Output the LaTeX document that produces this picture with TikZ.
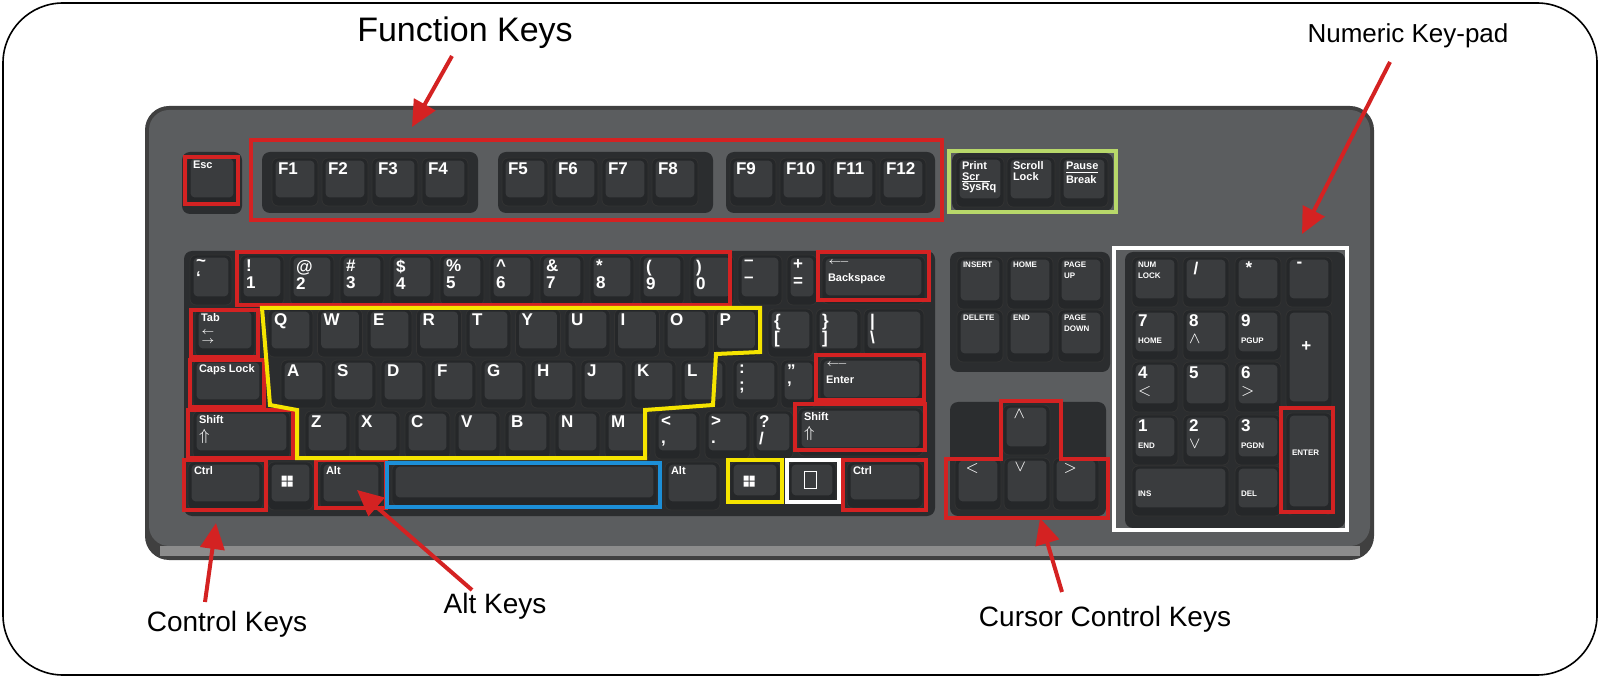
\documentclass[tikz,border=0pt]{standalone}
\usepackage{fontspec}
\setmainfont{Liberation Sans}
\usetikzlibrary{arrows.meta}
\definecolor{body}{HTML}{5B5D5F}
\definecolor{keyd}{HTML}{252729}
\definecolor{keyf}{HTML}{3A3C3E}
\definecolor{tray}{HTML}{2B2D2F}
\definecolor{rd}{HTML}{D42222}
\definecolor{yl}{HTML}{F5E400}
\definecolor{bl}{HTML}{1C8FD8}
\definecolor{gr}{HTML}{B8D86A}
\tikzset{
 key/.style={fill=keyd,draw=black!80,rounded corners=3pt,inner sep=0pt},
 face/.style={fill=keyf},
 lbl/.style={anchor=north west,inner sep=0pt,text=white,align=left,font=\bfseries\fontsize{5.5}{8.5}\selectfont},
 hl/.style={line width=2pt,line join=miter},
 callout/.style={rd,line width=2pt,-{Triangle[length=13pt,width=12pt]}},
 title/.style={font=\fontsize{14}{16}\selectfont},
}
\newcommand\kk[6]{%
 \node[key,minimum width=#4*0.5pt,minimum height=#5*0.5pt] (#1) at ({#2+#4/2},{#3+#5/2}) {};
 \fill[face,rounded corners=2pt] ([shift={(4,3)}]#1.north west) rectangle ([shift={(-4,-9)}]#1.south east);
 \node[lbl] at ([shift={(6,5)}]#1.north west) {#6};}
\newcommand\BL[1]{{\fontsize{8.5}{9}\selectfont #1}}
\newcommand\SM{\fontsize{4}{5}\selectfont}
\newcommand\winlogo[1]{\fill[white] ([shift={(14,14)}]#1.north west) rectangle +(5,5) ([shift={(20,14)}]#1.north west) rectangle +(5,5) ([shift={(14,20)}]#1.north west) rectangle +(5,5) ([shift={(20,20)}]#1.north west) rectangle +(5,5);}
\begin{document}
\begin{tikzpicture}[x=0.5pt,y=-0.5pt]
\useasboundingbox (0,0) rectangle (1600,678);
\fill[white] (0,0) rectangle (1600,678);
\draw[line width=0.8pt,rounded corners=30pt] (3,3) rectangle (1597,675);
% body
\fill[black!75,rounded corners=12pt] (145,106) rectangle (1374,560);
\fill[body,rounded corners=10pt] (149,110) rectangle (1370,546);
\fill[black!45] (160,546) rectangle (1360,556);
% trays
\fill[tray,rounded corners=4pt] (182,152) rectangle (242,214);
\fill[tray,rounded corners=4pt] (262,152) rectangle (478,213);
\fill[tray,rounded corners=4pt] (498,152) rectangle (713,213);
\fill[tray,rounded corners=4pt] (726,152) rectangle (935,213);
\fill[tray,rounded corners=4pt] (952,153) rectangle (1113,211);
\fill[tray,rounded corners=4pt] (184,251) rectangle (935,516);
\fill[tray,rounded corners=4pt] (950,252) rectangle (1110,372);
\fill[tray,rounded corners=4pt] (950,402) rectangle (1106,516);
\fill[tray,rounded corners=4pt] (1125,252) rectangle (1345,528);
% function row
\kk{kEsc}{187}{156}{50}{50}{Esc}
\foreach \l [count=\i from 0] in {F1,F2,F3,F4}{\kk{kfa\i}{272+50*\i}{158}{46}{48}{\BL{\l}}}
\foreach \l [count=\i from 0] in {F5,F6,F7,F8}{\kk{kfb\i}{502+50*\i}{158}{46}{48}{\BL{\l}}}
\foreach \l [count=\i from 0] in {F9,F10,F11,F12}{\kk{kfc\i}{730+50*\i}{158}{46}{48}{\BL{\l}}}
\kk{kPrt}{956}{157}{48}{50}{Print\\[-3pt]Scr\\[-8pt]\rule{14pt}{0.4pt}\\[-4pt]SysRq}
\kk{kScr}{1007}{157}{48}{50}{Scroll\\[-3pt]Lock}
\kk{kPau}{1060}{157}{48}{50}{Pause\\[-7pt]\rule{16pt}{0.4pt}\\[-3pt]Break}
% row 1
\kk{kTil}{190}{255}{42}{50}{\BL{\textasciitilde}\\\BL{`}}
\foreach \a/\b [count=\i from 0] in {!/1,@/2,\#/3,\$/4,\%/5,\textasciicircum/6,\&/7,*/8,{(}/9,{)}/0}{\kk{kn\i}{240+50*\i}{255}{44}{50}{\BL{\a}\\\BL{\b}}}
\kk{kMin}{738}{255}{44}{50}{\BL{--}\\\BL{--}}
\kk{kEq}{787}{255}{30}{50}{\BL{+}\\\BL{=}}
\kk{kBsp}{822}{256}{103}{48}{$\longleftarrow$\\Backspace}
% row 2
\kk{kTab}{195}{309}{60}{48}{Tab\\[-2pt]$\leftarrow$\\[-4pt]$\rightarrow$}
\foreach \l [count=\i from 0] in {Q,W,E,R,T,Y,U,I,O,P}{\kk{kq\i}{268+49.5*\i}{309}{45}{48}{\BL{\l}}}
\kk{kLb}{768}{309}{45}{48}{\BL{\{}\\\BL{[}}
\kk{kRb}{816}{309}{45}{48}{\BL{\}}\\\BL{]}}
\kk{kBs}{864}{309}{60}{48}{\BL{|}\\\BL{\textbackslash}}
% row 3
\kk{kCap}{193}{360}{70}{48}{Caps Lock}
\foreach \l [count=\i from 0] in {A,S,D,F,G,H,J,K,L}{\kk{ka\i}{281+50*\i}{360}{45}{48}{\BL{\l}}}
\kk{kSc}{733}{360}{45}{48}{\BL{:}\\\BL{;}}
\kk{kQu}{781}{360}{35}{48}{\BL{"}\\\BL{'}}
\kk{kEnt}{820}{358}{103}{48}{$\longleftarrow$\\Enter}
% row 4
\kk{kShL}{193}{411}{97}{48}{Shift\\\BL{$\Uparrow$}}
\foreach \l [count=\i from 0] in {Z,X,C,V,B,N,M}{\kk{kz\i}{305+50*\i}{411}{45}{48}{\BL{\l}}}
\kk{kLt}{655}{411}{45}{48}{\BL{<}\\\BL{,}}
\kk{kGt}{705}{411}{45}{48}{\BL{>}\\\BL{.}}
\kk{kQm}{753}{411}{40}{48}{\BL{?}\\\BL{/}}
\kk{kShR}{798}{408}{125}{48}{Shift\\\BL{$\Uparrow$}}
% row 5
\kk{kCtL}{188}{462}{75}{48}{Ctrl}
\kk{kWiL}{268}{462}{45}{48}{}\winlogo{kWiL}
\kk{kAlL}{320}{462}{62}{48}{Alt}
\kk{kSpc}{392}{464}{265}{42}{}
\kk{kAlR}{665}{462}{55}{48}{Alt}
\kk{kWiR}{730}{462}{50}{42}{}\winlogo{kWiR}
\kk{kMen}{788}{462}{48}{42}{}
\draw[white,line width=0.7pt] ([shift={(17,10)}]kMen.north west) rectangle +(12,17);
\kk{kCtR}{847}{462}{76}{46}{Ctrl}
% navigation
\kk{kIns}{957}{257}{46}{52}{\SM INSERT}
\kk{kHom}{1007}{257}{46}{52}{\SM HOME}
\kk{kPgU}{1058}{257}{46}{52}{\SM PAGE\\[-3pt]\SM UP}
\kk{kDel}{957}{310}{46}{52}{\SM DELETE}
\kk{kEnd}{1007}{310}{46}{52}{\SM END}
\kk{kPgD}{1058}{310}{46}{52}{\SM PAGE\\[-3pt]\SM DOWN}
% arrows
\kk{kUp}{1003}{405}{47}{50}{\BL{\ $\wedge$}}
\kk{kLe}{955}{458}{46}{52}{\BL{\ $<$}}
\kk{kDn}{1004}{458}{46}{52}{\BL{\ $\vee$}}
\kk{kRi}{1053}{458}{46}{52}{\BL{\ $>$}}
% numpad
\kk{kNum}{1132}{257}{46}{50}{\SM NUM\\[-3pt]\SM LOCK}
\kk{kSl}{1183}{257}{46}{50}{\BL{\ /}}
\kk{kSt}{1235}{257}{46}{50}{\BL{\ *}}
\kk{kMi}{1286}{257}{46}{50}{\BL{\ -}}
\kk{k7}{1132}{310}{46}{50}{\BL{7}\\\SM HOME}
\kk{k8}{1183}{310}{46}{50}{\BL{8}\\\BL{$\wedge$}}
\kk{k9}{1235}{310}{46}{50}{\BL{9}\\\SM PGUP}
\kk{kPl}{1286}{310}{46}{100}{\\[10pt]\BL{\ \ +}}
\kk{k4}{1132}{362}{46}{50}{\BL{4}\\\BL{$<$}}
\kk{k5}{1183}{362}{46}{50}{\BL{5}}
\kk{k6}{1235}{362}{46}{50}{\BL{6}\\\BL{$>$}}
\kk{k1}{1132}{415}{46}{50}{\BL{1}\\\SM END}
\kk{k2}{1183}{415}{46}{50}{\BL{2}\\\BL{$\vee$}}
\kk{k3}{1235}{415}{46}{50}{\BL{3}\\\SM PGDN}
\kk{kNE}{1286}{413}{46}{102}{\\[10pt]\SM ENTER}
\kk{k0}{1132}{466}{97}{50}{\\[4pt]\SM INS}
\kk{kDt}{1235}{466}{46}{50}{\\[4pt]\SM DEL}
% highlight boxes
\draw[hl,rd] (185,157) rectangle (238,204);
\draw[hl,rd] (251,140) rectangle (942,220);
\draw[hl,gr] (949,151) rectangle (1116,212);
\draw[hl,rd] (237,252) rectangle (730,305);
\draw[hl,rd] (818,252) rectangle (929,300);
\draw[hl,rd] (191,310) rectangle (258,357);
\draw[hl,rd] (190,360) rectangle (264,407);
\draw[hl,rd] (188,410) rectangle (293,458);
\draw[hl,rd] (184,460) rectangle (266,510);
\draw[hl,rd] (316,460) rectangle (386,508);
\draw[hl,bl] (387,463) rectangle (660,507);
\draw[hl,yl] (728,460) rectangle (782,502);
\draw[hl,white] (787,460) rectangle (839,502);
\draw[hl,rd] (843,460) rectangle (926,510);
\draw[hl,rd] (816,355) rectangle (924,400);
\draw[hl,rd] (795,404) rectangle (925,450);
\draw[hl,yl] (262,308) -- (760,308) -- (760,352) -- (716,354) -- (713,405) -- (645,410) -- (645,458) -- (297,458) -- (297,410) -- (270,405) -- (266,356) -- cycle;
\draw[hl,rd] (1001,401) -- (1061,401) -- (1061,459) -- (1108,459) -- (1108,518) -- (946,518) -- (946,459) -- (1001,459) -- cycle;
\draw[hl,white] (1114,248) rectangle (1347,530);
\draw[hl,rd] (1281,408) rectangle (1333,512);
% titles and callouts
\node[title,font=\fontsize{17}{19}\selectfont] (tFun) at (465,33) {Function Keys};
\node[title,font=\fontsize{13}{15}\selectfont] (tNum) at (1408,36) {Numeric Key-pad};
\node[title] (tCtl) at (227,624) {Control Keys};
\node[title] (tAlt) at (495,606) {Alt Keys};
\node[title] (tCur) at (1105,619) {Cursor Control Keys};
\coordinate (aFun) at (412,127);
\coordinate (aNum) at (1302,234);
\coordinate (aCtl) at (216,523);
\coordinate (aAlt) at (357,490);
\coordinate (aCur) at (1040,518);
\draw[callout] (452,56) -- (aFun);
\draw[callout] (1390,62) -- (aNum);
\draw[callout] (205,602) -- (aCtl);
\draw[callout] (472,590) -- (aAlt);
\draw[callout] (1062,592) -- (aCur);
\end{tikzpicture}
\end{document}
